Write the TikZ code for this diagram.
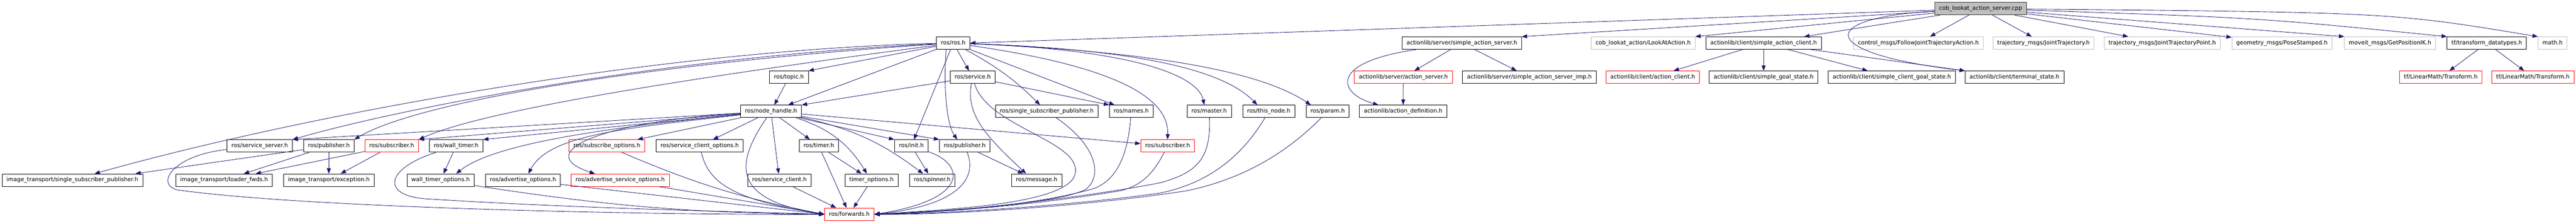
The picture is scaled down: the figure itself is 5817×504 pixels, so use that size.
\documentclass[tikz,border=0pt]{standalone}
\usepackage{fontspec}
\setmainfont{DejaVu Sans}
\usetikzlibrary{arrows.meta}
\definecolor{edgeblue}{HTML}{191970}
\definecolor{grey75}{HTML}{BFBFBF}

\begin{document}
\begin{tikzpicture}[x=1pt,y=-1pt,
		file/.style={draw=black,line width=1pt,fill=white,rectangle,minimum height=28pt,inner xsep=10pt,inner ysep=0pt,
			text height=9.6pt,text depth=2.8pt,font=\fontsize{12.8}{15}\selectfont},
		missing/.style={file,draw=red},
		external/.style={file,draw=grey75},
		root/.style={file,fill=grey75,draw=black!80},
		dep/.style={color=edgeblue,line width=1pt,-{Triangle[length=12pt,width=9pt]}}]
		\useasboundingbox (0,0) rectangle (5817,504);

		\node[root] at (4472.5,19.5)(cpp){cob\_lookat\_action\_server.cpp};

		\node[file] at (2152.5,97)(rosh){ros/ros.h};
		\node[file] at (3301,97)(sas){actionlib/server/simple\_action\_server.h};
		\node[external] at (3710.5,97)(lookat){cob\_lookat\_action/LookAtAction.h};
		\node[file] at (3982.5,97)(sac){actionlib/client/simple\_action\_client.h};
		\node[external] at (4332,97)(fjta){control\_msgs/FollowJointTrajectoryAction.h};
		\node[external] at (4614.5,97)(jt){trajectory\_msgs/JointTrajectory.h};
		\node[external] at (4882.5,97)(jtp){trajectory\_msgs/JointTrajectoryPoint.h};
		\node[external] at (5153,97)(pose){geometry\_msgs/PoseStamped.h};
		\node[external] at (5397,97)(ik){moveit\_msgs/GetPositionIK.h};
		\node[file] at (5615.5,97)(tfdt){tf/transform\_datatypes.h};
		\node[external] at (5764,97)(math){math.h};

		\node[file] at (1781.5,174)(topic){ros/topic.h};
		\node[file] at (2196.5,174)(service){ros/service.h};
		\node[missing] at (3169,174)(asrv){actionlib/server/action\_server.h};
		\node[file] at (3453.5,174)(sasimp){actionlib/server/simple\_action\_server\_imp.h};
		\node[missing] at (3732,174)(acli){actionlib/client/action\_client.h};
		\node[file] at (3982.5,174)(sgs){actionlib/client/simple\_goal\_state.h};
		\node[file] at (4272,174)(scgs){actionlib/client/simple\_client\_goal\_state.h};
		\node[file] at (4549,174)(term){actionlib/client/terminal\_state.h};
		\node[missing] at (5511.5,174)(lmta){tf/LinearMath/Transform.h};
		\node[missing] at (5719.5,174)(lmtb){tf/LinearMath/Transform.h};

		\node[file] at (1741,251)(nh){ros/node\_handle.h};
		\node[file] at (2363.5,251)(ssp){ros/single\_subscriber\_publisher.h};
		\node[file] at (2554.5,251)(names){ros/names.h};
		\node[file] at (2730.5,251)(master){ros/master.h};
		\node[file] at (2865,251)(thisnode){ros/this\_node.h};
		\node[file] at (2998,251)(param){ros/param.h};
		\node[file] at (3168.5,251)(adef){actionlib/action\_definition.h};

		\node[file] at (586.5,329)(srvsrv){ros/service\_server.h};
		\node[file] at (742.5,329)(publ){ros/publisher.h};
		\node[missing] at (884.5,329)(subl){ros/subscriber.h};
		\node[file] at (1030,329)(wt){ros/wall\_timer.h};
		\node[missing] at (1370.5,329)(subopt){ros/subscribe\_options.h};
		\node[file] at (1580,329)(scopt){ros/service\_client\_options.h};
		\node[file] at (1849,329)(timer){ros/timer.h};
		\node[file] at (2058,329)(init){ros/init.h};
		\node[file] at (2178.5,329)(pubr){ros/publisher.h};
		\node[missing] at (2636.5,329)(subr){ros/subscriber.h};

		\node[file] at (163.5,406)(itssp){image\_transport/single\_subscriber\_publisher.h};
		\node[file] at (506,406)(itlf){image\_transport/loader\_fwds.h};
		\node[file] at (742.5,406)(itexc){image\_transport/exception.h};
		\node[file] at (995,406)(wto){wall\_timer\_options.h};
		\node[file] at (1181,406)(advopt){ros/advertise\_options.h};
		\node[missing] at (1400.5,406)(advsrv){ros/advertise\_service\_options.h};
		\node[file] at (1760,406)(sclient){ros/service\_client.h};
		\node[file] at (1968,406)(tmo){timer\_options.h};
		\node[file] at (2105,406)(spinner){ros/spinner.h};
		\node[file] at (2341,406)(msg){ros/message.h};

		\node[missing] at (1918,483)(fwd){ros/forwards.h};

		\path[dep](cpp)edge(rosh.east)(cpp)edge(sas.north east)(cpp)edge(lookat.north east)(cpp)edge(sac)(cpp)edge(fjta)(cpp)edge(jt)(cpp)edge(jtp)(cpp)edge(pose)(cpp)edge(ik.north west);
		\draw[dep](cpp) .. controls (5100,40) .. (tfdt.north west);
		\draw[dep](cpp) .. controls (5400,28) .. (math.north west);
		\draw[dep](cpp) .. controls (4100,40) and (4100,120) .. (term.north west);

		\path[dep](rosh)edge(topic.north east)(rosh)edge(nh)(rosh)edge(service)(rosh)edge(init)(rosh)edge[bend left=8](ssp)(rosh)edge(names);
		\draw[dep](rosh) .. controls (1500,112) and (700,255) .. ([xshift=50]itssp.north);
		\draw[dep](rosh) .. controls (1500,128) and (900,245) .. (srvsrv.north east);
		\draw[dep](rosh) .. controls (1500,140) and (950,225) .. (publ.north east);
		\draw[dep](rosh) .. controls (1600,170) and (1100,245) .. (subl.north east);
		\draw[dep]([xshift=-16]rosh.south) .. controls (2130,200) and (2138,280) .. ([xshift=-17]pubr.north);
		\draw[dep](rosh) .. controls (2560,112) and (2705,170) .. ([xshift=-11]master.north);
		\draw[dep](rosh) .. controls (2600,112) and (2770,165) .. ([xshift=-26]thisnode.north);
		\draw[dep](rosh) .. controls (2650,118) and (2860,170) .. ([xshift=-38]param.north);
		\draw[dep](rosh) .. controls (2520,150) and (2640,220) .. (subr.north);

		\path[dep](topic)edge(nh)(service)edge(nh.north east)(service)edge(names.north west);
		\draw[dep](service) .. controls (2180,260) and (2230,310) .. ([xshift=-24]msg.north);
		\draw[dep](service) .. controls (2230,290) and (2460,320) .. (2425,400) .. controls (2390,460) and (2150,472) .. (fwd.east);

		\path[dep](nh)edge(srvsrv.north east)(nh)edge(subl.north east)(nh)edge(wt.north east)(nh)edge(subopt)(nh)edge(scopt)(nh)edge(sclient)(nh)edge(timer)(nh)edge[bend left=20](tmo)(nh)edge(init.north west)(nh)edge[bend left=12](spinner)(nh)edge(pubr.north west)(nh)edge(subr);
		\draw[dep](nh) .. controls (1400,285) and (1120,320) .. ([xshift=35]wto.north);
		\draw[dep](nh) .. controls (1400,290) and (1240,305) .. ([xshift=12]advopt.north);
		\draw[dep](nh) .. controls (1350,275) and (1200,345) .. ([xshift=-57]advsrv.north);
		\draw[dep](nh) .. controls (1660,370) and (1650,450) .. (fwd.west);

		\path[dep](publ)edge([xshift=-17]itssp.north east)(publ)edge(itlf)(publ)edge(itexc)(subl)edge(itlf)(subl)edge(itexc)(wt)edge(wto);
		\path[dep](subopt)edge[bend right=6](fwd.west)(advsrv)edge(fwd.west)(advopt)edge(fwd.west)(wto)edge[bend right=4](fwd.west);
		\draw[dep](wt) .. controls (870,380) and (860,440) .. (960,448) .. controls (1300,470) and (1700,478) .. (fwd.west);
		\draw[dep](srvsrv) .. controls (390,350) and (350,415) .. (400,428) .. controls (700,470) and (1500,485) .. (fwd.west);
		\draw[dep](scopt) .. controls (1600,410) and (1650,450) .. (fwd.west);

		\path[dep](pubr)edge(msg)(init)edge(spinner)(timer)edge(tmo)(timer)edge(fwd)(tmo)edge(fwd)(sclient)edge(fwd);
		\draw[dep](pubr) .. controls (2210,410) and (2150,465) .. (fwd.east);
		\draw[dep](init) .. controls (2180,370) and (2190,450) .. (fwd.east);
		\draw[dep](ssp) .. controls (2480,330) and (2490,400) .. (2450,428) .. controls (2380,460) and (2150,475) .. (fwd.east);
		\draw[dep](names) .. controls (2545,370) and (2510,410) .. (2470,425) .. controls (2350,460) and (2150,478) .. (fwd.east);
		\draw[dep](subr) .. controls (2600,400) and (2570,420) .. (2530,430) .. controls (2350,460) and (2150,478) .. (fwd.east);
		\draw[dep](master) .. controls (2735,360) and (2700,390) .. (2620,412) .. controls (2450,445) and (2150,480) .. (fwd.east);
		\draw[dep](thisnode) .. controls (2800,360) and (2720,415) .. (2620,435) .. controls (2450,460) and (2150,482) .. (fwd.east);
		\draw[dep](param) .. controls (2900,350) and (2800,405) .. (2680,430) .. controls (2450,465) and (2150,484) .. (fwd.east);

		\path[dep](sas)edge(asrv)(sas)edge(sasimp)(asrv)edge(adef);
		\draw[dep](sas) .. controls (3000,140) and (3020,210) .. ([xshift=-56]adef.north);
		\path[dep](sac)edge(acli)(sac)edge(sgs)(sac)edge(scgs)(sac)edge(term.north west)(tfdt)edge(lmta)(tfdt)edge(lmtb);
	\end{tikzpicture}
\end{document}
